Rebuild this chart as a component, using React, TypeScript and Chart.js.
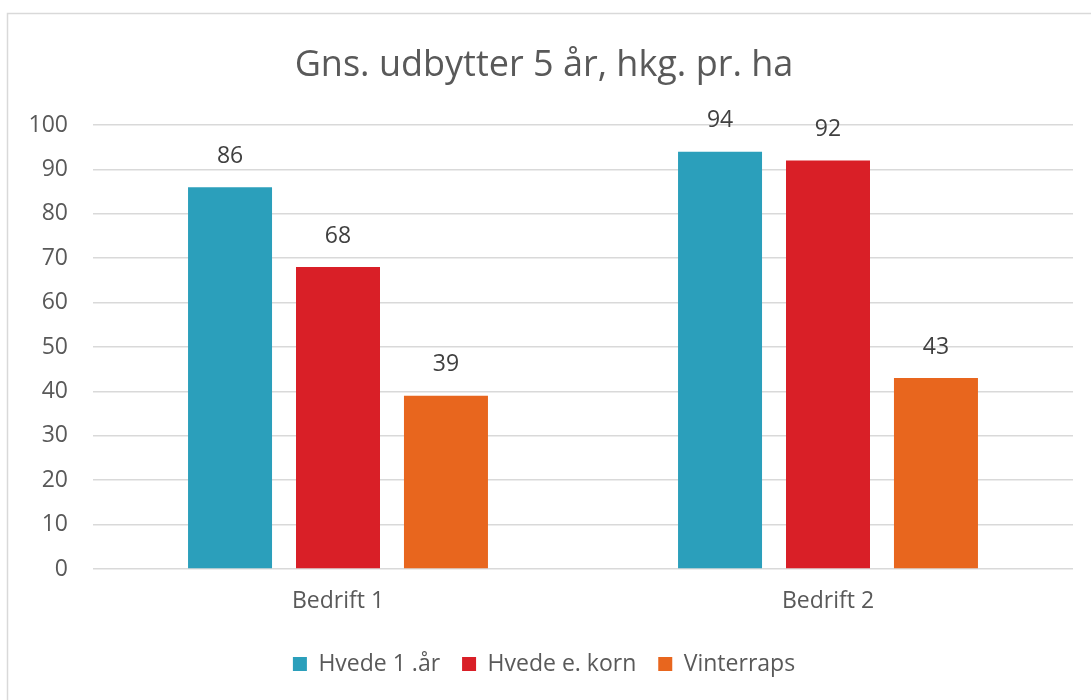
import React, { useEffect, useRef } from "react";
import { Chart, registerables } from "chart.js";

Chart.register(...registerables);

const categories = ["Bedrift 1", "Bedrift 2"];
const seriesNames = ["Hvede 1 .år", "Hvede e. korn", "Vinterraps"];
const hvede1 = [86, 94];
const hvedeKorn = [68, 92];
const vinterraps = [39, 43];
const seriesColors = ["#2b9fbb", "#d91f27", "#e8661e"];
const titleText = "Gns. udbytter 5 år, hkg. pr. ha";
const FONT = "'Open Sans', 'Noto Sans', sans-serif";

const borderPlugin = {
  id: "outerBorder",
  beforeDraw(chart: any) {
    const ctx = chart.ctx;
    ctx.save();
    ctx.fillStyle = "#ffffff";
    ctx.fillRect(0, 0, chart.width, chart.height);
    ctx.strokeStyle = "#d9d9d9";
    ctx.lineWidth = 1.5;
    ctx.strokeRect(7.5, 13.5, chart.width + 100, chart.height + 100);
    ctx.restore();
  },
};

const valueLabels = {
  id: "valueLabels",
  afterDatasetsDraw(chart: any) {
    const ctx = chart.ctx;
    ctx.save();
    ctx.font = `23px ${FONT}`;
    ctx.fillStyle = "#404040";
    ctx.textAlign = "center";
    ctx.textBaseline = "middle";
    chart.data.datasets.forEach((ds: any, i: number) => {
      const meta = chart.getDatasetMeta(i);
      meta.data.forEach((bar: any, j: number) => {
        ctx.fillText(String(ds.data[j]), bar.x, bar.y - 31);
      });
    });
    ctx.restore();
  },
};

export default function App() {
  const ref = useRef<HTMLCanvasElement>(null);
  useEffect(() => {
    if (!ref.current) return;
    const data = [hvede1, hvedeKorn, vinterraps];
    const chart = new Chart(ref.current, {
      type: "bar",
      data: {
        labels: categories,
        datasets: seriesNames.map((name, i) => ({
          label: name,
          data: data[i],
          backgroundColor: seriesColors[i],
          borderWidth: 0,
          barPercentage: 0.778,
          categoryPercentage: 0.661,
        })),
      },
      options: {
        responsive: false,
        animation: false,
        layout: { padding: { left: 15, right: 18, top: 0, bottom: 14.5 } },
        plugins: {
          title: {
            display: true,
            text: titleText,
            color: "#595959",
            font: { family: FONT, size: 36, weight: "normal" },
            padding: { top: 44.4, bottom: 37.4 },
          },
          legend: {
            position: "bottom",
            labels: {
              color: "#595959",
              font: { family: FONT, size: 23 },
              boxWidth: 14,
              boxHeight: 14,
              padding: 22,
            },
          },
          tooltip: { enabled: false },
        },
        scales: {
          x: {
            grid: { display: false, drawTicks: false },
            border: { display: false },
            ticks: { color: "#595959", font: { family: FONT, size: 23 }, padding: 19 },
            afterFit: (s: any) => {
              s.height = 61.5;
            },
          },
          y: {
            min: 0,
            max: 100,
            grid: { color: "#d9d9d9", lineWidth: 1.5, drawTicks: false },
            border: { display: false },
            ticks: {
              stepSize: 10,
              color: "#595959",
              font: { family: FONT, size: 23 },
              padding: 25,
            },
            afterFit: (s: any) => {
              s.width = 78;
            },
          },
        },
      },
      plugins: [borderPlugin, valueLabels],
    });
    return () => chart.destroy();
  }, []);
  return (
    <div style={{ position: "absolute", left: 0, top: 0, width: 1091, height: 700, overflow: "hidden", background: "#fff" }}>
      <canvas ref={ref} width={1091} height={700} />
    </div>
  );
}
